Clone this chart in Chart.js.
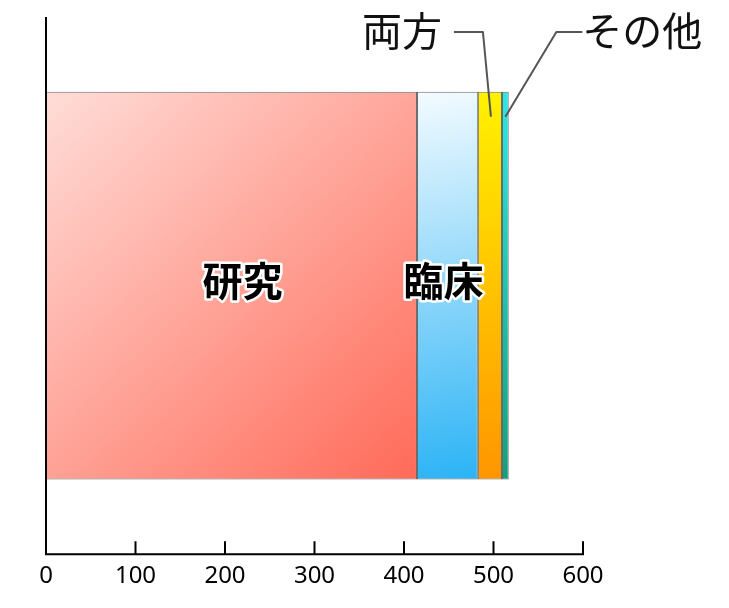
<!DOCTYPE html>
<html><head><meta charset="utf-8">
<script src="https://cdn.jsdelivr.net/npm/chart.js@4/dist/chart.umd.min.js"></script>
<style>html,body{margin:0;padding:0;background:#fff;}#wrap{width:729px;height:608px;}</style>
</head><body><div id="wrap"><canvas id="c" width="729" height="608"></canvas></div>
<script>
const categories = [''];
const seriesNames = ['研究', '臨床', '両方', 'その他'];
const seriesValues = [414.5, 68, 27, 7.5];
const tickValues = [0, 100, 200, 300, 400, 500, 600];
const gradStart = ['#FFDDD8', '#F3FBFF', '#FFF200', '#2BE8E8'];
const gradEnd = ['#FF6A58', '#2BB3F5', '#FF9500', '#12A07A'];
const FONT = "'Noto Sans CJK JP', 'Noto Sans', sans-serif";

function gradFor(i) {
  return function(ctx) {
    const chart = ctx.chart;
    const ca = chart.chartArea;
    if (!ca) return gradStart[i];
    const xs = chart.scales.x;
    let s = 0; for (let k = 0; k < i; k++) s += seriesValues[k];
    const x0 = xs.getPixelForValue(s), x1 = xs.getPixelForValue(s + seriesValues[i]);
    const ys = chart.scales.y;
    const yc = ys.getPixelForValue(0);
    const h = (ca.bottom - ca.top) * 0.722;
    const g = chart.ctx.createLinearGradient(x0, yc - h / 2, x1, yc + h / 2);
    g.addColorStop(0, gradStart[i]);
    g.addColorStop(1, gradEnd[i]);
    return g;
  };
}

const datasets = seriesNames.map((n, i) => ({
  label: n,
  data: [seriesValues[i]],
  backgroundColor: gradFor(i),
  borderColor: '#6a6a6a',
  borderWidth: 1,
  borderSkipped: false,
  categoryPercentage: 1,
  barPercentage: 0.722
}));

const overlay = {
  id: 'overlay',
  afterDatasetsDraw(chart) {
    const ctx = chart.ctx, ca = chart.chartArea, xs = chart.scales.x;
    ctx.save();
    // axes
    ctx.strokeStyle = '#000'; ctx.lineWidth = 2;
    ctx.beginPath();
    ctx.moveTo(ca.left, ca.top); ctx.lineTo(ca.left, ca.bottom + 1);
    ctx.moveTo(ca.left - 1, ca.bottom); ctx.lineTo(ca.right + 1, ca.bottom);
    tickValues.forEach(v => {
      const x = xs.getPixelForValue(v);
      ctx.moveTo(x, ca.bottom); ctx.lineTo(x, ca.bottom - 13);
    });
    ctx.stroke();
    // inside labels
    const el = i => chart.getDatasetMeta(i).data[0];
    ctx.font = 'bold 40px ' + FONT;
    ctx.textAlign = 'center'; ctx.textBaseline = 'middle';
    ctx.lineJoin = 'round';
    [[0, 11], [1, -4]].forEach(([i, dx]) => {
      const e = el(i);
      const cx = (e.x + e.base) / 2 + dx, cy = e.y - 5;
      ctx.strokeStyle = '#fff'; ctx.lineWidth = 5;
      ctx.strokeText(seriesNames[i], cx, cy);
      ctx.fillStyle = '#000';
      ctx.fillText(seriesNames[i], cx, cy);
    });
    // callouts
    const e2 = el(2), e3 = el(3);
    const topY = e2.y - e2.height / 2;
    const p2 = (e2.x + e2.base) / 2 + 1, p3 = (e3.x + e3.base) / 2;
    ctx.strokeStyle = '#555'; ctx.lineWidth = 2;
    ctx.beginPath();
    ctx.moveTo(p2, topY + 25); ctx.lineTo(p2 - 8, 32); ctx.lineTo(p2 - 37, 32);
    ctx.moveTo(p3, topY + 25); ctx.lineTo(p3 + 51, 32); ctx.lineTo(p3 + 77, 32);
    ctx.stroke();
    ctx.font = '40px ' + FONT;
    ctx.fillStyle = '#111';
    ctx.textAlign = 'right';
    ctx.fillText(seriesNames[2], p2 - 49, 31);
    ctx.textAlign = 'left';
    ctx.fillText(seriesNames[3], p3 + 77, 31);
    ctx.restore();
  }
};

new Chart(document.getElementById('c'), {
  type: 'bar',
  data: { labels: categories, datasets },
  options: {
    indexAxis: 'y',
    responsive: false,
    animation: false,
    devicePixelRatio: 1,
    layout: { padding: { left: 46, right: 146, top: 17, bottom: 9 } },
    plugins: { legend: { display: false }, tooltip: { enabled: false } },
    scales: {
      x: {
        stacked: true, min: 0, max: 600,
        afterBuildTicks: s => { s.ticks = tickValues.map(v => ({ value: v })); },
        grid: { display: false, drawTicks: false },
        border: { display: false },
        ticks: { color: '#000', padding: 8, font: { size: 24, family: "'Noto Sans', sans-serif" } }
      },
      y: {
        stacked: true, display: false,
        grid: { display: false }
      }
    }
  },
  plugins: [overlay]
});
</script></body></html>
